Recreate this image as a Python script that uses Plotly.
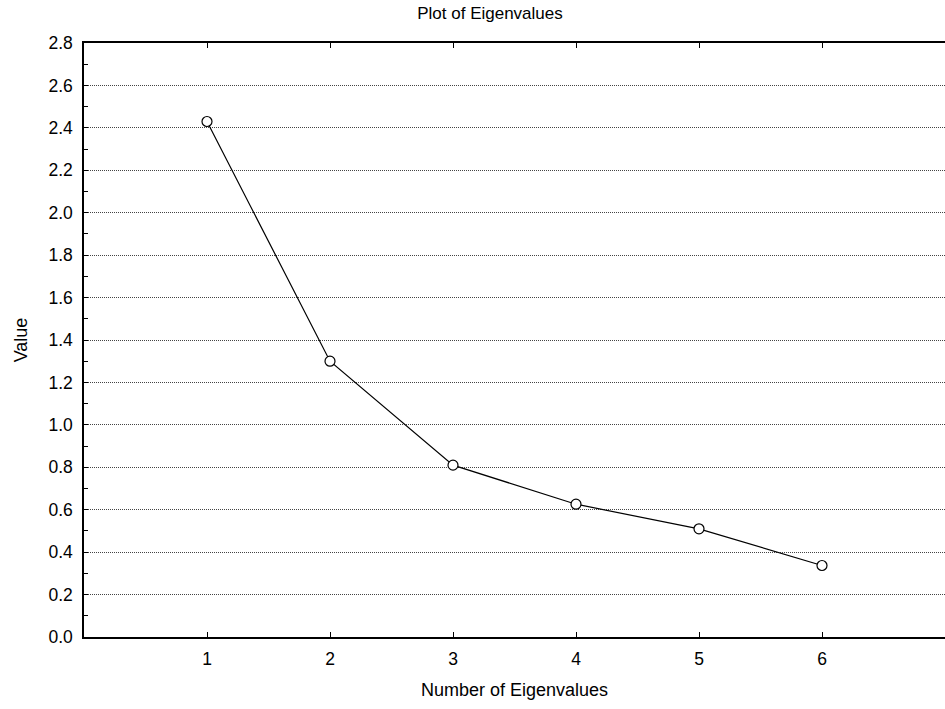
import plotly.graph_objects as go

eig_numbers = [1, 2, 3, 4, 5, 6]
eig_values = [2.43, 1.30, 0.81, 0.626, 0.51, 0.337]
x_tick_vals = [1, 2, 3, 4, 5, 6]
x_tick_text = ["1", "2", "3", "4", "5", "6"]

FONT = "Arial, Liberation Sans, sans-serif"

fig = go.Figure()
fig.add_trace(go.Scatter(
    x=eig_numbers, y=eig_values, mode="lines+markers",
    line=dict(color="black", width=1.2),
    marker=dict(symbol="circle", size=10, color="white",
                line=dict(color="black", width=1.2)),
    showlegend=False, hoverinfo="x+y",
))

fig.update_layout(
    width=945, height=709,
    margin=dict(l=84, r=0, t=43, b=72),
    paper_bgcolor="white", plot_bgcolor="white",
    font=dict(family=FONT, size=17.5, color="black"),
    title=dict(text="Plot of Eigenvalues", x=490 / 945, xanchor="center",
               y=1 - 13 / 709, yanchor="middle", yref="container",
               font=dict(family=FONT, size=17, color="black")),
)
fig.update_xaxes(
    range=[0, 7], tickmode="array", tickvals=x_tick_vals, ticktext=x_tick_text,
    ticks="inside", ticklen=5, tickcolor="black", tickwidth=1,
    showline=True, linecolor="black", linewidth=1.5, mirror="ticks",
    showgrid=False, zeroline=False, ticklabelstandoff=5, automargin=False,
    title=dict(text="Number of Eigenvalues", standoff=16,
               font=dict(family=FONT, size=18)),
)
fig.update_yaxes(
    range=[0, 2.8], dtick=0.2, tick0=0, tickformat=".1f",
    ticks="inside", ticklen=4, tickcolor="black", tickwidth=1,
    minor=dict(dtick=0.1, ticks="inside", ticklen=4, tickcolor="black", showgrid=False),
    showline=True, linecolor="black", linewidth=1.5, mirror=False,
    showgrid=True, gridcolor="#444444", gridwidth=1, griddash="1px,1px",
    zeroline=False, ticklabelstandoff=6, automargin=False,
    title=dict(text="Value", standoff=16, font=dict(family=FONT, size=18)),
)

fig.write_html("out.html", config={"displayModeBar": False},
               post_script="document.body.style.margin='0';document.body.style.overflow='hidden';")
